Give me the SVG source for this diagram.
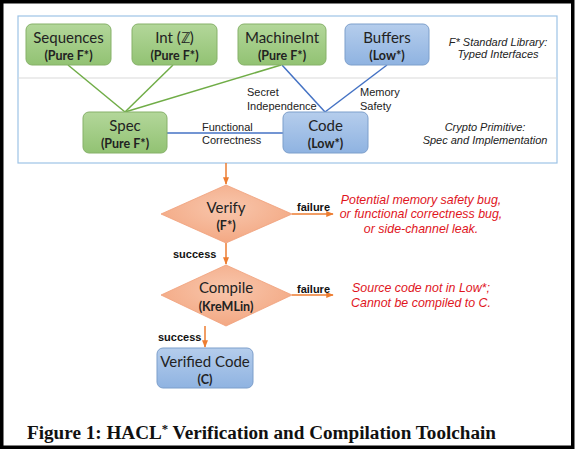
<svg xmlns="http://www.w3.org/2000/svg" width="576" height="450" viewBox="0 0 576 450">
<defs>
<linearGradient id="gG" x1="0" y1="0" x2="0" y2="1"><stop offset="0" stop-color="#b3d79a"/><stop offset="1" stop-color="#92c273"/></linearGradient>
<linearGradient id="gB" x1="0" y1="0" x2="0" y2="1"><stop offset="0" stop-color="#b5cdec"/><stop offset="1" stop-color="#8fb3e1"/></linearGradient>
<radialGradient id="gO" cx="0.5" cy="0.4" r="0.6"><stop offset="0" stop-color="#f8c6ac"/><stop offset="1" stop-color="#f3a883"/></radialGradient>
<marker id="arr" viewBox="0 0 10 10" refX="9" refY="5" markerWidth="5" markerHeight="5" orient="auto"><path d="M0,1 L10,5 L0,9 z" fill="#ed7d31"/></marker>
</defs>
<style>
.g{fill:url(#gG);stroke:#86b169;stroke-width:1}
.b{fill:url(#gB);stroke:#7d9fcb;stroke-width:1}
.d{fill:url(#gO);stroke:#f0a07a;stroke-width:0.8}
.t{font-family:Lato,"Open Sans",sans-serif;font-size:15px;fill:#222;text-anchor:middle}
.s{font-family:Lato,"Open Sans",sans-serif;font-size:12.5px;font-weight:bold;fill:#222;text-anchor:middle}
.a{font-family:"Liberation Sans",Arial,sans-serif;font-size:11px;fill:#222}
.ai{font-family:"Liberation Sans",Arial,sans-serif;font-size:11px;font-style:italic;fill:#222;text-anchor:middle}
.r{font-family:"Liberation Sans",Arial,sans-serif;font-size:12.4px;font-style:italic;fill:#e0151d;text-anchor:middle}
.k{font-family:"Liberation Sans",Arial,sans-serif;font-size:11px;font-weight:bold;fill:#111}
.lg{stroke:#70ad47;stroke-width:1.5;fill:none}
.lb{stroke:#4472c4;stroke-width:1.5;fill:none}
.lo{stroke:#ed7d31;stroke-width:1.5;fill:none;marker-end:url(#arr)}
</style>
<rect x="0" y="0" width="576" height="450" fill="#fff"/>
<rect x="1.75" y="1.75" width="571" height="445.5" fill="none" stroke="#000" stroke-width="3.5"/>
<g id="frame">
<rect x="18" y="16" width="539" height="147" fill="none" stroke="#9dc3e6" stroke-width="1.2"/>
<line x1="18" y1="78" x2="557" y2="78" stroke="#d9d9d9" stroke-width="1"/>
</g>
<g id="connectors">
<line class="lg" x1="68" y1="65" x2="125" y2="112"/>
<line class="lg" x1="173" y1="65" x2="125" y2="112"/>
<line class="lg" x1="281" y1="65" x2="125" y2="112"/>
<line class="lb" x1="282" y1="65" x2="325" y2="112"/>
<line class="lb" x1="387" y1="65" x2="325" y2="112"/>
<line class="lb" x1="167" y1="133" x2="283" y2="133"/>
<line class="lo" x1="226" y1="163" x2="226" y2="184"/>
<line class="lo" x1="292" y1="214" x2="333" y2="214"/>
<line class="lo" x1="226" y1="243" x2="226" y2="264"/>
<line class="lo" x1="292" y1="295" x2="333" y2="295"/>
<line class="lo" x1="205" y1="326" x2="205" y2="347"/>
<text class="a" x="247" y="96">Secret</text>
<text class="a" x="247" y="110">Independence</text>
<text class="a" x="360" y="96">Memory</text>
<text class="a" x="360" y="110">Safety</text>
<text class="a" x="202" y="131">Functional</text>
<text class="a" x="202" y="144">Correctness</text>
<text class="k" x="297" y="211">failure</text>
<text class="k" x="297" y="293">failure</text>
<text class="k" x="173" y="258">success</text>
<text class="k" x="158" y="341">success</text>
</g>
<g id="sequences"><rect class="g" x="26" y="24" width="85" height="41" rx="6"/><text class="t" x="68.5" y="43">Sequences</text><text class="s" x="68.5" y="59.5">(Pure F*)</text></g>
<g id="int"><rect class="g" x="132" y="24" width="85" height="41" rx="6"/><text class="t" x="174.5" y="43">Int (ℤ)</text><text class="s" x="174.5" y="59.5">(Pure F*)</text></g>
<g id="machineint"><rect class="g" x="238" y="24" width="88" height="41" rx="6"/><text class="t" x="282" y="43">MachineInt</text><text class="s" x="282" y="59.5">(Pure F*)</text></g>
<g id="buffers"><rect class="b" x="345" y="24" width="84" height="41" rx="6"/><text class="t" x="387" y="43">Buffers</text><text class="s" x="387" y="59.5">(Low*)</text></g>
<g id="lib-label"><text class="ai" x="498" y="46">F* Standard Library:</text><text class="ai" x="498" y="58">Typed Interfaces</text></g>
<g id="spec"><rect class="g" x="83" y="112" width="84" height="41" rx="6"/><text class="t" x="125" y="131">Spec</text><text class="s" x="125" y="147.5">(Pure F*)</text></g>
<g id="code"><rect class="b" x="283" y="112" width="85" height="41" rx="6"/><text class="t" x="325.5" y="131">Code</text><text class="s" x="325.5" y="147.5">(Low*)</text></g>
<g id="prim-label"><text class="ai" x="485" y="131">Crypto Primitive:</text><text class="ai" x="485" y="144">Spec and Implementation</text></g>
<g id="verify"><polygon class="d" points="226,185 292,214 226,243 161,214"/><text class="t" x="226" y="213">Verify</text><text class="s" x="226" y="230">(F*)</text></g>
<g id="verify-fail"><text class="r" x="421" y="204">Potential memory safety bug,</text><text class="r" x="421" y="218">or functional correctness bug,</text><text class="r" x="421" y="233">or side-channel leak.</text></g>
<g id="compile"><polygon class="d" points="226,265 292,295 226,326 161,295"/><text class="t" x="226" y="293">Compile</text><text class="s" x="226" y="311">(KreMLin)</text></g>
<g id="compile-fail"><text class="r" x="421" y="292">Source code not in Low*;</text><text class="r" x="421" y="307">Cannot be compiled to C.</text></g>
<g id="verified"><rect class="b" x="157" y="348" width="96" height="40" rx="6"/><text class="t" x="205" y="367">Verified Code</text><text class="s" x="205" y="384">(C)</text></g>
<text x="27" y="439" font-family="'Liberation Serif','Times New Roman',serif" font-weight="bold" font-size="18" fill="#111" textLength="469" lengthAdjust="spacingAndGlyphs">Figure 1: HACL<tspan font-size="12" dy="-6">*</tspan><tspan dy="6"> Verification and Compilation Toolchain</tspan></text>
</svg>
